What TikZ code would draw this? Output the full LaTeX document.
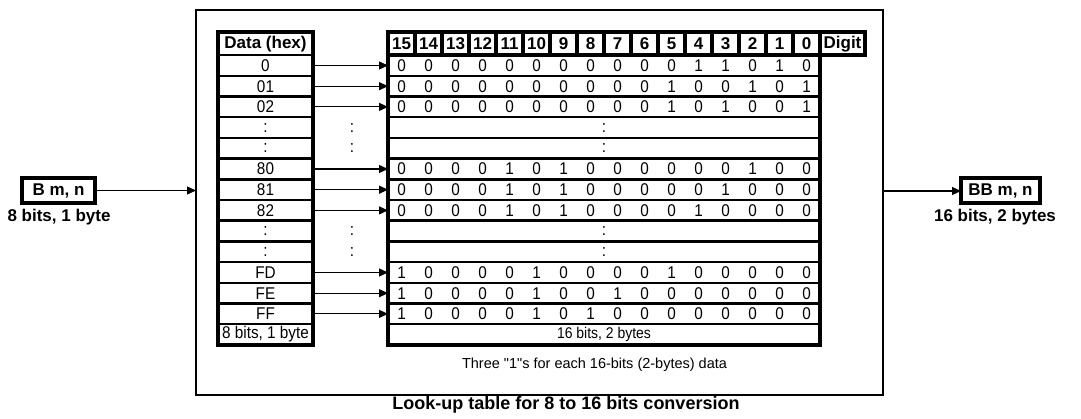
\documentclass[tikz,border=0pt]{standalone}
\usepackage{fontspec}
\setmainfont{Liberation Sans}
\newfontfamily\narrowfont[FakeStretch=0.9]{Liberation Sans}
\newcommand\sq{\XeTeXglyph\XeTeXcharglyph"22\relax}
\usetikzlibrary{arrows.meta}
\begin{document}
\begin{tikzpicture}[x=1pt,y=-1pt,
 txt/.style={font=\narrowfont\fontsize{17}{19}\selectfont, inner sep=0pt},
 boldtxt/.style={font=\fontsize{17}{19}\selectfont\bfseries, inner sep=0pt},
 lcell/.style={draw, line width=2.5pt, outer sep=0pt, minimum width=95pt, minimum height=20.7pt, inner sep=0pt, txt},
 rrow/.style={draw, line width=2.5pt, outer sep=0pt, minimum width=432pt, minimum height=20.7pt, inner sep=0pt, txt},
 hcell/.style={draw, line width=4pt, outer sep=0pt, minimum width=27pt, minimum height=22.5pt, inner sep=0pt, boldtxt},
 iobox/.style={draw, line width=4pt, outer sep=0pt, minimum height=25pt, inner sep=0pt, boldtxt},
 arr/.style={line width=1.2pt, -{Triangle[length=9pt,width=8pt]}},
]
\useasboundingbox (0,0) rectangle (1081,419);
\node[draw, line width=1.5pt, outer sep=0pt, minimum width=687pt, minimum height=385pt] (frame) at (539.5,202.5) {};
% left table
\node[lcell, boldtxt, minimum height=22.5pt] (Lh) at (265.5,43.75) {Data (hex)};
\foreach \i/\t in {0/0,1/01,2/02,3/:,4/:,5/80,6/81,7/82,8/:,9/:,10/FD,11/FE,12/FF,13/{8 bits, 1 byte}}{
  \pgfmathsetmacro\y{65.5+20.7*\i}
  \node[lcell] (L\i) at (265.5,\y) {\t};
  \node[rrow] (R\i) at (604,\y) {};
}
\draw[line width=4pt] (Lh.north west) rectangle (L13.south east);
\draw[line width=4pt] (R0.north west) rectangle (R13.south east);
% header
\foreach \k [count=\j from 0] in {15,14,...,0}{
  \node[hcell] (H\k) at ({401.5+27*\j},43.75) {\k};
}
\node[hcell, minimum width=45pt] (Hd) at (842.5,43.75) {Digit};
% bits
\foreach \i/\bits in {
 0/{0,0,0,0,0,0,0,0,0,0,0,1,1,0,1,0},
 1/{0,0,0,0,0,0,0,0,0,0,1,0,0,1,0,1},
 2/{0,0,0,0,0,0,0,0,0,0,1,0,1,0,0,1},
 5/{0,0,0,0,1,0,1,0,0,0,0,0,0,1,0,0},
 6/{0,0,0,0,1,0,1,0,0,0,0,0,1,0,0,0},
 7/{0,0,0,0,1,0,1,0,0,0,0,1,0,0,0,0},
 10/{1,0,0,0,0,1,0,0,0,0,1,0,0,0,0,0},
 11/{1,0,0,0,0,1,0,0,1,0,0,0,0,0,0,0},
 12/{1,0,0,0,0,1,0,1,0,0,0,0,0,0,0,0}}{
  \pgfmathsetmacro\y{65.5+20.7*\i}
  \foreach \b [count=\j from 0] in \bits {
    \node[txt] (b\i-\j) at ({401.5+27*\j},\y) {\b};
  }
  \draw[arr] (L\i.east) -- (R\i.west);
}
\foreach \i in {3,4,8,9}{
  \pgfmathsetmacro\y{65.5+20.7*\i}
  \node[txt] (dm\i) at (352,\y) {:};
  \node[txt] (dr\i) at (604,\y) {:};
}
\node[txt, font=\narrowfont\fontsize{15.5}{17}\selectfont] (t13) at (R13.center) {16 bits, 2 bytes};
% input / output
\node[iobox, minimum width=73pt] (B) at (58.5,190.5) {B m, n};
\node[boldtxt] (Bl) at (59,217) {8 bits, 1 byte};
\node[iobox, minimum width=79pt] (BB) at (1000.5,191) {BB m, n};
\node[boldtxt] (BBl) at (995,217) {16 bits, 2 bytes};
\draw[arr] (B.east) -- (B.east -| frame.west);
\draw[arr] (frame.east |- BB.west) -- (BB.west);
% captions
\node[font=\fontsize{14.5}{16}\selectfont, inner sep=0pt] (note) at (594.5,365) {Three \sq1\sq s for each 16-bits (2-bytes) data};
\node[font=\fontsize{18}{20}\selectfont\bfseries, inner sep=0pt] (title) at (566,405) {Look-up table for 8 to 16 bits conversion};
\end{tikzpicture}
\end{document}
